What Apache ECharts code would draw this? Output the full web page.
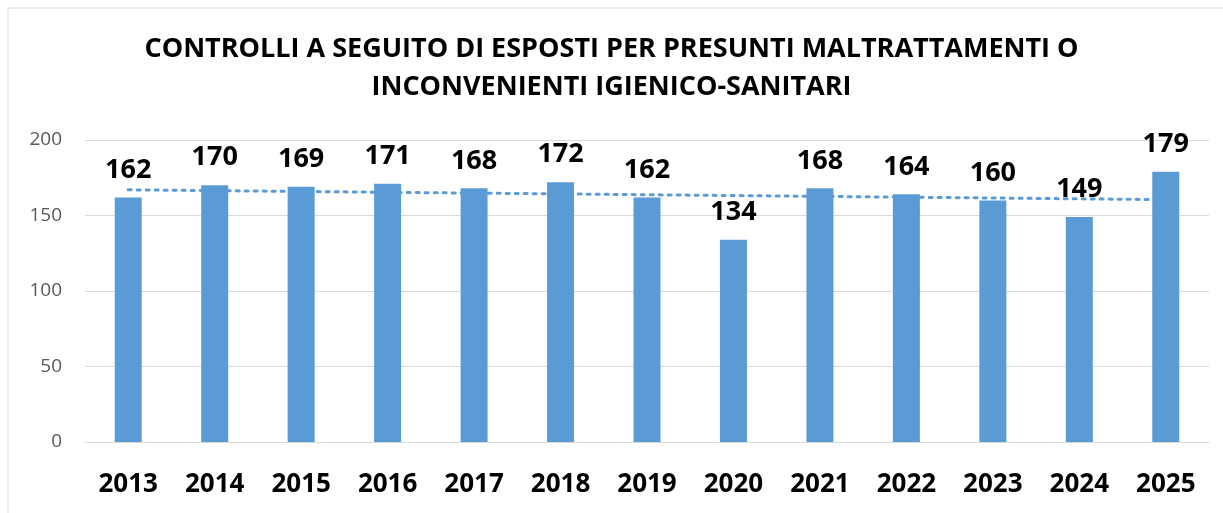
<!DOCTYPE html>
<html>
<head>
<meta charset="utf-8">
<script src="https://cdn.jsdelivr.net/npm/echarts@6/dist/echarts.min.js"></script>
<style>
  html, body { margin: 0; padding: 0; background: #fff; }
  #chart { width: 1223px; height: 513px; }
</style>
</head>
<body>
<div id="chart"></div>
<script>
// Data
var titleLines = ['CONTROLLI A SEGUITO DI ESPOSTI PER PRESUNTI MALTRATTAMENTI O', 'INCONVENIENTI IGIENICO-SANITARI'];
var years = ['2013', '2014', '2015', '2016', '2017', '2018', '2019', '2020', '2021', '2022', '2023', '2024', '2025'];
var controlli = [162, 170, 169, 171, 168, 172, 162, 134, 168, 164, 160, 149, 179];
// trend line end points (first and last year)
var trendEnds = [167, 160.5];
var yTicks = [0, 50, 100, 150, 200];

var trendData = years.map(function (y, i) {
    if (i === 0) return trendEnds[0];
    if (i === years.length - 1) return trendEnds[1];
    return null;
});

var titleStyle = {
    fontSize: 27,
    fontWeight: 'bold',
    color: '#000',
    fontFamily: '"Open Sans", sans-serif'
};

var chart = echarts.init(document.getElementById('chart'));

var option = {
    animation: false,
    textStyle: { fontFamily: '"Open Sans", sans-serif' },
    title: [
        { text: titleLines[0], left: 'center', top: 36, padding: 0, textStyle: titleStyle },
        { text: titleLines[1], left: 'center', top: 74, padding: 0, textStyle: titleStyle }
    ],
    graphic: [{
        type: 'rect',
        shape: { x: 8, y: 8, width: 1230, height: 520 },
        style: { fill: null, stroke: '#d9d9d9', lineWidth: 1 },
        silent: true
    }],
    grid: { left: 85, right: 14, top: 140, bottom: 71 },
    xAxis: {
        type: 'category',
        data: years,
        axisLine: { lineStyle: { color: '#d9d9d9' } },
        axisTick: { show: false },
        axisLabel: {
            margin: 30,
            fontSize: 26,
            fontWeight: 'bold',
            color: '#000'
        }
    },
    yAxis: {
        type: 'value',
        min: yTicks[0],
        max: yTicks[yTicks.length - 1],
        interval: 50,
        axisLine: { show: false },
        axisTick: { show: false },
        splitLine: { lineStyle: { color: '#d9d9d9' } },
        axisLabel: { margin: 23, fontSize: 19, color: '#595959' }
    },
    series: [{
        name: 'Controlli',
        type: 'bar',
        data: controlli,
        barWidth: 27,
        itemStyle: { color: '#5b9bd5' },
        label: {
            show: true,
            position: 'top',
            distance: 14,
            fontSize: 27,
            fontWeight: 'bold',
            color: '#000'
        }
    }, {
        name: 'Tendenza',
        type: 'line',
        data: trendData,
        connectNulls: true,
        symbol: 'none',
        z: 3,
        lineStyle: { color: '#5b9bd5', width: 3, type: [3, 6], cap: 'round' }
    }]
};

chart.setOption(option);
</script>
</body>
</html>
